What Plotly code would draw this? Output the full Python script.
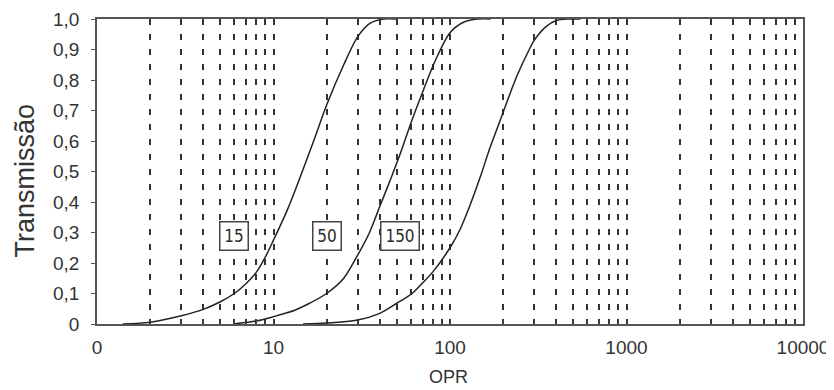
import numpy as np
import plotly.graph_objects as go

# ---- data ----
opr_15 = [1.4, 2, 3, 4, 5, 6, 7, 8, 9, 10, 12, 14, 17, 20, 25, 30, 35, 42, 50]
trans_15 = [0, 0.006, 0.027, 0.048, 0.073, 0.10, 0.133, 0.17, 0.22, 0.275, 0.375,
            0.474, 0.605, 0.718, 0.85, 0.942, 0.985, 1.0, 1.0]

opr_50 = [5.9, 8, 10, 13.2, 16, 20, 25, 30, 35, 40, 46, 52, 61, 71, 82, 100, 120, 144, 170]
trans_50 = [0, 0.01, 0.024, 0.045, 0.068, 0.10, 0.15, 0.226, 0.30, 0.385, 0.474,
            0.555, 0.67, 0.77, 0.86, 0.955, 0.99, 1.0, 1.0]

opr_150 = [14.7, 20, 30, 40, 50, 61, 70, 80, 100, 114, 130, 148, 169, 196, 238, 284,
           300, 350, 400, 466, 550]
trans_150 = [0, 0.003, 0.013, 0.035, 0.068, 0.10, 0.135, 0.171, 0.25, 0.31, 0.39,
             0.48, 0.58, 0.68, 0.81, 0.905, 0.93, 0.975, 0.995, 1.0, 1.0]

series = [("15", opr_15, trans_15, 6.0),
          ("50", opr_50, trans_50, 20.0),
          ("150", opr_150, trans_150, 52.0)]
label_y = 0.29

x_tickvals = [m * 10 ** k for k in range(4) for m in range(1, 10)] + [10000]
x_ticktext = [("0" if k == 0 else str(10 ** k)) if m == 1 else ""
              for k in range(4) for m in range(1, 10)] + ["10000"]

y_tickvals = [i / 10 for i in range(11)]
y_ticktext = ["0"] + [f"{v:.1f}".replace(".", ",") for v in y_tickvals[1:]]

# ---- figure ----
fig = go.Figure()
for name, xs, ys, lx in series:
    fig.add_trace(go.Scatter(x=xs, y=ys, mode="lines", name=name,
                             line=dict(color="#222222", width=1.5, shape="spline", smoothing=0.8),
                             showlegend=False, hoverinfo="x+y"))

annotations = []
for name, xs, ys, lx in series:
    annotations.append(dict(
        x=np.log10(lx), y=label_y, xref="x", yref="y", text=name, showarrow=False,
        font=dict(family="DejaVu Sans Condensed, Roboto, sans-serif", size=17, color="#2a2a2a"),
        bgcolor="white", bordercolor="#444444", borderwidth=1.5, borderpad=2,
        width=23 if len(name) == 2 else 33, height=23,
    ))

annotations.append(dict(
    text="Transmissão", xref="paper", yref="paper", x=0, y=0.5, xshift=-73, yshift=-9,
    xanchor="center", yanchor="middle", textangle=-90, showarrow=False,
    font=dict(family="Liberation Sans, Arial, sans-serif", size=27, color="#333333")))
annotations.append(dict(
    text="OPR", xref="paper", yref="paper", x=0.5, y=0, xshift=-2, yshift=-53,
    xanchor="center", yanchor="middle", showarrow=False,
    font=dict(family="Liberation Sans, Arial, sans-serif", size=18, color="#333333")))

# the page body adds an 8px offset, so the figure is 8px smaller and margins shifted
fig.update_layout(
    width=826, height=382,
    margin=dict(l=89, r=31, t=11, b=66),
    paper_bgcolor="white", plot_bgcolor="white",
    annotations=annotations,
    xaxis=dict(
        type="log", range=[0, 4], tickvals=x_tickvals, ticktext=x_ticktext,
        showgrid=True, gridcolor="#333333", gridwidth=1.5, griddash="6px,9px",
        ticks="inside", ticklen=4, tickcolor="#444444", tickwidth=1,
        showline=True, linecolor="#555555", linewidth=1.5, mirror=True,
        zeroline=False, automargin=False, ticklabelstandoff=5,
        tickfont=dict(family="Liberation Sans, Arial, sans-serif", size=19, color="#333333"),
    ),
    yaxis=dict(
        range=[0, 1], tickvals=y_tickvals, ticktext=y_ticktext,
        showgrid=False, ticks="outside", ticklen=4, tickcolor="#555555", tickwidth=1,
        showline=True, linecolor="#555555", linewidth=1.5, mirror=True,
        zeroline=False, automargin=False, ticklabelstandoff=8,
        tickfont=dict(family="Liberation Sans, Arial, sans-serif", size=19, color="#333333"),
    ),
)

fig.write_html("out.html")
